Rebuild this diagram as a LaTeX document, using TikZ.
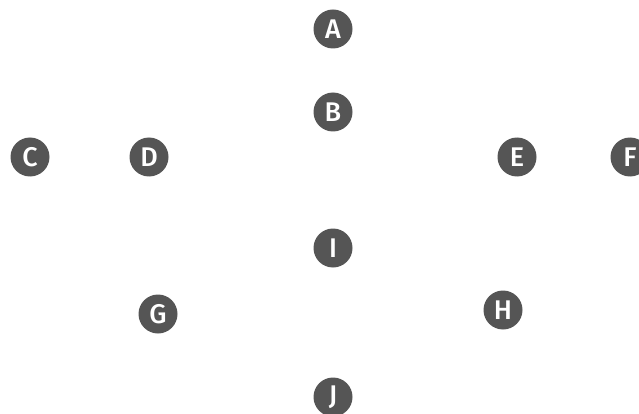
\documentclass[tikz,border=0pt]{standalone}
\usepackage{fontspec}
\newfontfamily\badgefont{Fira Sans Medium}
\usetikzlibrary{positioning}
\definecolor{badgegray}{RGB}{85,85,85}
\tikzset{
  badge/.style = {circle, fill=badgegray, inner sep=0pt, minimum size=39pt,
                  text=white, font=\badgefont\fontsize{27}{27}\selectfont},
}

\begin{document}
\begin{tikzpicture}[x=1pt,y=-1pt]
  % ---- canvas ------------------------------------------------------------
  \useasboundingbox (0,0) rectangle (639,414);

  % ---- badges ------------------------------------------------------------
  \node[badge] (A) at (333,29)  {A};
  \node[badge] (B) at (333,112) {B};
  \node[badge] (C) at (30,157)  {C};
  \node[badge] (D) at (149,157) {D};
  \node[badge] (E) at (517,157) {E};
  \node[badge] (F) at (630,157) {F};
  \node[badge] (I) at (333,248) {I};
  \node[badge] (G) at (158,314) {G};
  \node[badge] (H) at (503,310) {H};
  \node[badge] (J) at (333,397) {J};
\end{tikzpicture}
\end{document}
